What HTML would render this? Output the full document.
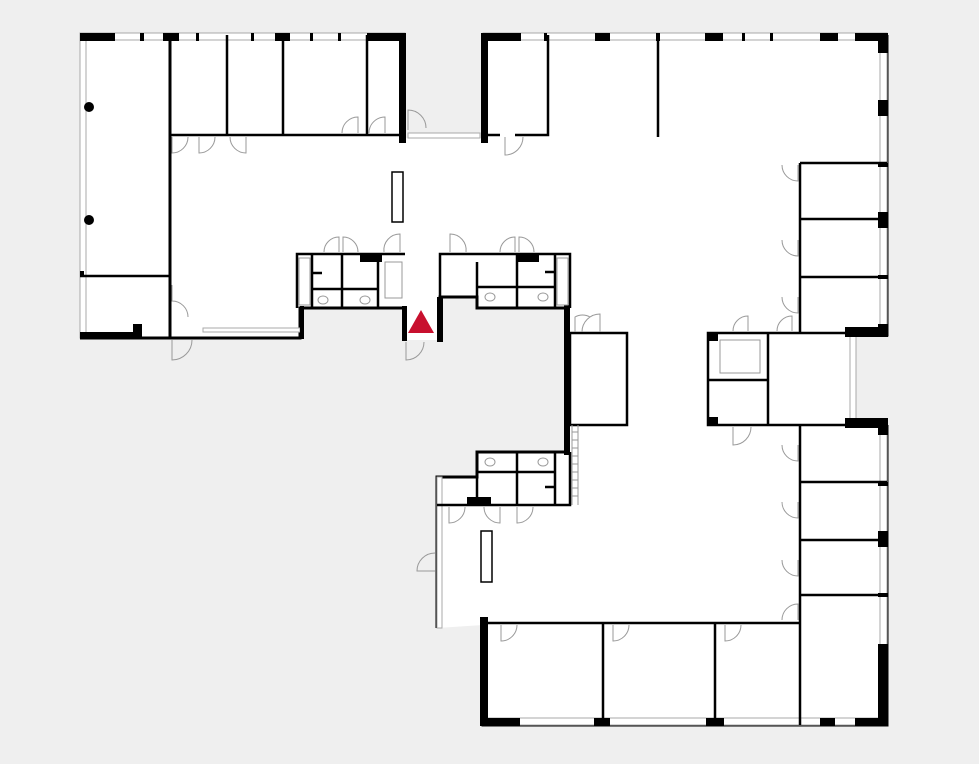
<!DOCTYPE html>
<html><head><meta charset="utf-8"><style>
html,body{margin:0;padding:0;background:#efefef;}
svg{display:block;}
</style></head><body>
<svg width="979" height="764" viewBox="0 0 979 764" xmlns="http://www.w3.org/2000/svg">
<rect width="979" height="764" fill="#efefef"/>
<!-- floor -->
<polygon fill="#fff" points="80,35 405,35 405,138 483,138 483,35 887,35 887,335 853,335 853,425 887,425 887,725 483,725 483,625 437,628 437,477 477,477 477,452 567,452 567,308 477,308 477,297 440,297 440,340 405,340 405,308 300,308 300,338 80,338"/>
<!-- outline walls -->
<g fill="none" stroke="#000" stroke-width="3">
<polyline points="853,335 887,335 887,35"/>
<polyline points="887,425 853,425"/>
<polyline points="887,425 887,725 483,725 483,625"/>
<polyline points="437,628 437,477 477,477 477,452 567,452 567,308 477,308 477,297 440,297 440,340"/>
<polyline points="405,340 405,308 300,308 300,338 80,338"/>
<line x1="170" y1="338" x2="170" y2="35"/>
</g>
<!-- windows -->
<g fill="#fff" stroke="#aaa" stroke-width="1">
<rect x="80" y="33" width="325" height="7"/>
<rect x="483" y="33" width="404" height="7"/>
<rect x="880" y="35" width="7" height="300"/>
<rect x="880" y="425" width="7" height="300"/>
<rect x="483" y="718" width="404" height="7"/>
<rect x="80" y="35" width="6" height="303"/>
<rect x="850" y="335" width="6" height="90"/>
<rect x="408" y="133" width="72" height="5"/>
<rect x="437" y="477" width="5" height="151"/>
<rect x="203" y="328" width="97" height="4"/>
</g>
<!-- thick wall blocks -->
<g fill="#000">
<rect x="80" y="33" width="35" height="8"/><rect x="140" y="33" width="4" height="8"/><rect x="163" y="33" width="16" height="8"/><rect x="196" y="33" width="3" height="8"/><rect x="251" y="33" width="3" height="8"/><rect x="275" y="33" width="15" height="8"/><rect x="310" y="33" width="3" height="8"/><rect x="338" y="33" width="3" height="8"/><rect x="367" y="33" width="39" height="8"/>
<rect x="399" y="33" width="7" height="110"/>
<rect x="481" y="33" width="7" height="110"/><rect x="481" y="33" width="40" height="8"/><rect x="544" y="33" width="3" height="8"/>
<rect x="595" y="33" width="15" height="8"/><rect x="656" y="33" width="4" height="8"/><rect x="705" y="33" width="18" height="8"/><rect x="742" y="33" width="3" height="8"/><rect x="770" y="33" width="3" height="8"/><rect x="820" y="33" width="18" height="8"/><rect x="855" y="33" width="33" height="8"/>
<rect x="878" y="33" width="10" height="20"/><rect x="878" y="100" width="10" height="16"/><rect x="878" y="212" width="10" height="16"/><rect x="878" y="163" width="10" height="4"/><rect x="878" y="275" width="10" height="4"/><rect x="878" y="324" width="10" height="13"/><rect x="845" y="327" width="43" height="10"/>
<rect x="845" y="418" width="43" height="10"/><rect x="878" y="418" width="10" height="17"/><rect x="878" y="482" width="10" height="4"/><rect x="878" y="531" width="10" height="16"/><rect x="878" y="593" width="10" height="4"/><rect x="878" y="644" width="10" height="82"/>
<rect x="480" y="718" width="40" height="8"/><rect x="594" y="718" width="16" height="8"/><rect x="706" y="718" width="18" height="8"/><rect x="820" y="718" width="15" height="8"/><rect x="855" y="718" width="33" height="8"/>
<rect x="480" y="617" width="8" height="109"/>
<rect x="80" y="332" width="62" height="7"/><rect x="133" y="324" width="9" height="15"/><rect x="80" y="271" width="4" height="6"/>
<rect x="300" y="306" width="4" height="33"/><rect x="402" y="306" width="5" height="35"/><rect x="437" y="297" width="6" height="45"/>
<rect x="564" y="305" width="6" height="150"/>
<rect x="360" y="254" width="22" height="8"/><rect x="517" y="254" width="22" height="8"/>
<rect x="467" y="497" width="24" height="7"/>
<rect x="708" y="333" width="10" height="8"/><rect x="708" y="417" width="10" height="8"/>
<circle cx="89" cy="107" r="5"/><circle cx="89" cy="220" r="5"/>
</g>
<!-- interior walls -->
<g fill="none" stroke="#000" stroke-width="2.5">
<line x1="80" y1="276" x2="170" y2="276"/>
<line x1="170" y1="135" x2="400" y2="135"/>
<line x1="227" y1="35" x2="227" y2="135"/><line x1="283" y1="35" x2="283" y2="135"/><line x1="367" y1="35" x2="367" y2="135"/>
<polyline points="548,35 548,135 515,135"/><line x1="488" y1="135" x2="500" y2="135"/>
<line x1="658" y1="35" x2="658" y2="137"/>
<line x1="800" y1="163" x2="800" y2="333"/>
<line x1="800" y1="163" x2="887" y2="163"/><line x1="800" y1="219" x2="887" y2="219"/><line x1="800" y1="277" x2="887" y2="277"/>
<polyline points="850,333 708,333 708,425 887,425"/>
<line x1="768" y1="333" x2="768" y2="425"/><line x1="708" y1="380" x2="768" y2="380"/>
<line x1="800" y1="425" x2="800" y2="725"/>
<line x1="800" y1="482" x2="887" y2="482"/><line x1="800" y1="540" x2="887" y2="540"/><line x1="800" y1="595" x2="887" y2="595"/>
<line x1="483" y1="623" x2="800" y2="623"/>
<line x1="603" y1="623" x2="603" y2="725"/><line x1="715" y1="623" x2="715" y2="725"/>
<rect x="570" y="333" width="57" height="92"/>
<!-- toilet blocks -->
<polyline points="297,308 297,254 405,254"/>
<line x1="312" y1="254" x2="312" y2="308"/><line x1="342" y1="254" x2="342" y2="308"/><line x1="378" y1="254" x2="378" y2="308"/>
<line x1="312" y1="289" x2="378" y2="289"/><line x1="312" y1="273" x2="322" y2="273"/>
<polyline points="440,297 440,254 570,254 570,308"/>
<line x1="477" y1="262" x2="477" y2="308"/><line x1="517" y1="254" x2="517" y2="308"/><line x1="555" y1="254" x2="555" y2="308"/>
<line x1="477" y1="287" x2="555" y2="287"/><line x1="545" y1="272" x2="555" y2="272"/>
<polyline points="437,505 570,505 570,452"/>
<line x1="477" y1="477" x2="477" y2="505"/><line x1="517" y1="452" x2="517" y2="505"/><line x1="555" y1="452" x2="555" y2="505"/>
<line x1="477" y1="472" x2="555" y2="472"/><line x1="545" y1="487" x2="555" y2="487"/>
</g>
<!-- racks -->
<rect x="392" y="172" width="11" height="50" fill="#fff" stroke="#000" stroke-width="1.5"/>
<rect x="481" y="531" width="11" height="51" fill="#fff" stroke="#000" stroke-width="1.5"/>
<!-- thin details -->
<g fill="none" stroke="#999" stroke-width="1">
<rect x="720" y="340" width="40" height="33"/>
<rect x="385" y="262" width="17" height="36"/>
<line x1="572" y1="425" x2="572" y2="505"/><line x1="578" y1="425" x2="578" y2="505"/>
<path d="M572 432h6M572 440h6M572 448h6M572 456h6M572 464h6M572 472h6M572 480h6M572 488h6M572 496h6"/>
<rect x="299" y="258" width="11" height="47"/>
<rect x="557" y="258" width="11" height="47"/>
<ellipse cx="323" cy="300" rx="5" ry="4"/><ellipse cx="365" cy="300" rx="5" ry="4"/><ellipse cx="490" cy="297" rx="5" ry="4"/><ellipse cx="543" cy="297" rx="5" ry="4"/>
<ellipse cx="490" cy="462" rx="5" ry="4"/><ellipse cx="543" cy="462" rx="5" ry="4"/>
<!-- door arcs -->
<path d="M172 137v16a16 16 0 0 0 16-16"/>
<path d="M199 137v16a16 16 0 0 0 16-16"/>
<path d="M246 137v16a16 16 0 0 1-16-16"/>
<path d="M358 133v-16a16 16 0 0 0-16 16"/>
<path d="M385 133v-16a16 16 0 0 0-16 16"/>
<path d="M408 130v-20a18 18 0 0 1 18 18"/>
<path d="M505 137v18a18 18 0 0 0 18-18"/>
<path d="M172 285v16a16 16 0 0 1 16 16"/>
<path d="M172 340v20a20 20 0 0 0 20-20"/>
<path d="M406 342v18a18 18 0 0 0 18-18"/>
<path d="M339 252v-15a15 15 0 0 0-15 15"/><path d="M343 252v-15a15 15 0 0 1 15 15"/>
<path d="M400 252v-18a16 16 0 0 0-16 18"/>
<path d="M450 252v-18a16 16 0 0 1 16 18"/>
<path d="M515 252v-15a15 15 0 0 0-15 15"/><path d="M519 252v-15a15 15 0 0 1 15 15"/>
<path d="M575 332v-15a15 15 0 0 1 15 0"/><path d="M600 332v-18a18 18 0 0 0-18 18"/>
<path d="M748 331v-15a15 15 0 0 0-15 15"/><path d="M792 331v-15a15 15 0 0 0-15 15"/>
<path d="M798 165v16a16 16 0 0 1-16-16"/>
<path d="M798 240v16a16 16 0 0 1-16-16"/>
<path d="M798 297v16a16 16 0 0 1-16-16"/>
<path d="M798 445v16a16 16 0 0 1-16-16"/>
<path d="M798 502v16a16 16 0 0 1-16-16"/>
<path d="M798 560v16a16 16 0 0 1-16-16"/>
<path d="M798 620v-16a16 16 0 0 0-16 16"/>
<path d="M733 427v18a18 18 0 0 0 18-18"/>
<path d="M449 507v16a16 16 0 0 0 16-16"/>
<path d="M500 507v16a16 16 0 0 1-16-16"/><path d="M517 507v16a16 16 0 0 0 16-16"/>
<path d="M435 571h-18a18 18 0 0 1 18-18"/>
<path d="M501 625v16a16 16 0 0 0 16-16"/>
<path d="M613 625v16a16 16 0 0 0 16-16"/>
<path d="M725 625v16a16 16 0 0 0 16-16"/>
</g>
<polygon points="408,333 421,310 434,333" fill="#c8102e"/>
</svg>
</body></html>
